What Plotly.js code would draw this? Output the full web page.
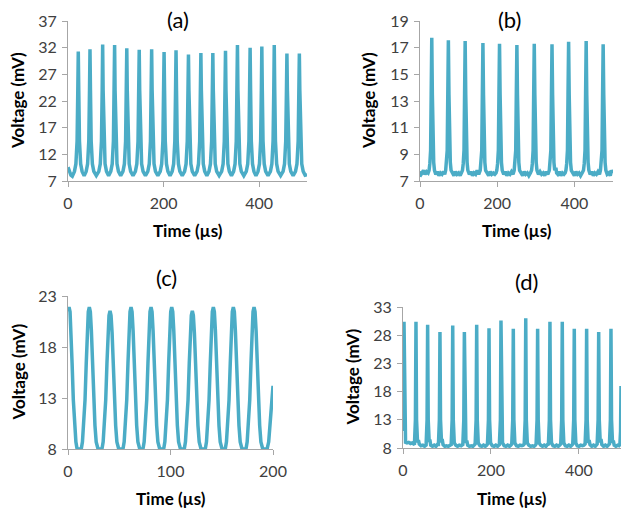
<!DOCTYPE html>
<html>
<head>
<meta charset="utf-8">
<script src="https://cdn.plot.ly/plotly-3.0.1.min.js"></script>
<style>
html,body{margin:0;padding:0;background:#fff;}
#chart{width:621px;height:508px;}
</style>
</head>
<body>
<div id="chart"></div>
<script>
// ---------- Panel (a) ----------
const timeA = [0,3,6,9,
13.5,16.5,19,20.5,21.5,22.5,24,26.5,29.5,33.8,
38,41,43.5,45,46,47,48.5,51,54,59.2,
64.5,67.5,70,71.5,72.5,73.5,75,77.5,80.5,85,
89.5,92.5,95,96.5,97.5,98.5,100,102.5,105.5,110.2,
115,118,120.5,122,123,124,125.5,128,131,136,
141,144,146.5,148,149,150,151.5,154,157,162,
167,170,172.5,174,175,176,177.5,180,183,188,
193,196,198.5,200,201,202,203.5,206,209,213.5,
218,221,223.5,225,226,227,228.5,231,234,239,
244,247,249.5,251,252,253,254.5,257,260,265,
270,273,275.5,277,278,279,280.5,283,286,290.5,
295,298,300.5,302,303,304,305.5,308,311,316.2,
321.5,324.5,327,328.5,329.5,330.5,332,334.5,337.5,342,
346.5,349.5,352,353.5,354.5,355.5,357,359.5,362.5,367.8,
373,376,378.5,380,381,382,383.5,386,389,393.2,
397.5,400.5,403,404.5,405.5,406.5,408,410.5,413.5,418.5,
423.5,426.5,429,430.5,431.5,432.5,434,436.5,439.5,444.8,
450,453,455.5,457,458,459,460.5,463,466,471,
476,479,481.5,483,484,485,486.5,489,492,496,500];
const voltA = [9.6,8.6,8.1,7.9,
8.8,10.2,14.5,24,31.3,24,14.5,10.2,8.8,8.0,
8.8,10.2,14.5,24,31.7,24,14.5,10.2,8.8,8.0,
8.8,10.2,14.5,24,32.6,24,14.5,10.2,8.8,8.0,
8.8,10.2,14.5,24,32.5,24,14.5,10.2,8.8,8.0,
8.8,10.2,14.5,24,31.9,24,14.5,10.2,8.8,8.0,
8.8,10.2,14.5,24,31.6,24,14.5,10.2,8.8,8.0,
8.8,10.2,14.5,24,31.7,24,14.5,10.2,8.8,8.0,
8.8,10.2,14.5,24,31.2,24,14.5,10.2,8.8,8.0,
8.8,10.2,14.5,24,31.5,24,14.5,10.2,8.8,8.0,
8.8,10.2,14.5,24,30.7,24,14.5,10.2,8.8,8.0,
8.8,10.2,14.5,24,31.0,24,14.5,10.2,8.8,8.0,
8.8,10.2,14.5,24,31.0,24,14.5,10.2,8.8,8.0,
8.8,10.2,14.5,24,31.4,24,14.5,10.2,8.8,8.0,
8.8,10.2,14.5,24,32.5,24,14.5,10.2,8.8,8.0,
8.8,10.2,14.5,24,32.0,24,14.5,10.2,8.8,8.0,
8.8,10.2,14.5,24,32.2,24,14.5,10.2,8.8,8.0,
8.8,10.2,14.5,24,32.5,24,14.5,10.2,8.8,8.0,
8.8,10.2,14.5,24,30.9,24,14.5,10.2,8.8,8.0,
8.8,10.2,14.5,24,30.9,24,14.5,10.2,8.8,8.1,8.2];

// ---------- Panel (b) ----------
const timeB = [0,2,5,9,13,17,21,
23.5,25.5,27.5,29,30.5,32,33.5,35.5,37.5,
41,45,49,53,57,61,64,
66.5,68.5,70.5,72,73.5,75,76.5,78.5,80.5,
84,88,92,96,100,104,107,
110,112,114,115.5,117,118.5,120,122,124,
128,132,136,140,144,148,152,
156,158,160,161.5,163,164.5,166,168,170,
174,178,182,186,190,194,197,
199,201,203,204.5,206,207.5,209,211,213,
217,221,225,229,233,237,241,
244,246,248,249.5,251,252.5,254,256,258,
262,266,270,274,278,282,286,
289,291,293,294.5,296,297.5,299,301,303,
307,311,315,319,323,327,331,
335,337,339,340.5,342,343.5,345,347,349,
352,354,357,361,365,369,373,376,
378,380,382,383.5,385,386.5,388,390,392,
396,400,404,408,412,416,420,
423.5,425.5,427.5,429,430.5,432,433.5,435.5,437.5,
441,445,449,453,457,461,465,
467.5,469.5,471.5,473,474.5,476,477.5,479.5,481.5,
485,489,493,496,500];
const voltB = [7.3,7.7,7.6,7.8,7.5,7.7,7.6,
7.8,8.3,9.3,13.5,17.75,13.5,9.3,8.4,7.8,
7.5,7.7,7.4,7.6,7.5,7.7,7.5,
7.8,8.3,9.3,13.5,17.55,13.5,9.3,8.4,7.8,
7.6,7.4,7.7,7.5,7.6,7.4,7.6,
7.8,8.3,9.3,13.5,17.5,13.5,9.3,8.4,7.8,
7.5,7.7,7.4,7.6,7.5,7.8,7.5,
7.8,8.3,9.3,13.5,17.35,13.5,9.3,8.4,7.8,
7.6,7.4,7.7,7.5,7.6,7.5,7.6,
7.8,8.3,9.3,13.5,17.3,13.5,9.3,8.4,7.8,
7.5,7.7,7.4,7.6,7.5,7.7,7.5,
7.8,8.3,9.3,13.5,17.2,13.5,9.3,8.4,7.8,
7.6,7.4,7.7,7.5,7.6,7.4,7.6,
7.8,8.3,9.3,13.5,17.3,13.5,9.3,8.4,7.8,
7.5,7.7,7.5,7.6,7.4,7.7,7.5,
7.8,8.3,9.3,13.5,17.25,13.5,9.3,8.4,7.8,
8.0,7.6,7.5,7.7,7.4,7.6,7.5,7.6,
7.8,8.3,9.3,13.5,17.45,13.5,9.3,8.4,7.8,
7.6,7.4,7.7,7.5,7.6,7.4,7.6,
7.8,8.3,9.3,13.5,17.5,13.5,9.3,8.4,7.8,
7.5,7.7,7.4,7.6,7.5,7.7,7.5,
7.8,8.3,9.3,13.5,17.25,13.5,9.3,8.4,7.8,
7.5,7.6,7.4,7.8,7.6];

// ---------- Panel (c) ----------
const timeC = [0,1,2,3,4,5.2,6.5,7.7,8.7,9.5,
12.3,13.1,14.1,15.3,16.6,17.8,18.8,19.8,20.8,21.8,22.8,23.8,25,26.3,27.5,28.5,29.3,
32.5,33.3,34.3,35.5,36.8,38,39,40,41,42,43,44,45.2,46.5,47.7,48.7,49.5,
53,53.8,54.8,56,57.3,58.5,59.5,60.5,61.5,62.5,63.5,64.5,65.7,67,68.2,69.2,70,
72.5,73.3,74.3,75.5,76.8,78,79,80,81,82,83,84,85.2,86.5,87.7,88.7,89.5,
92.7,93.5,94.5,95.7,97,98.2,99.2,100.2,101.2,102.2,103.2,104.2,105.4,106.7,107.9,108.9,109.7,
112.8,113.6,114.6,115.8,117.1,118.3,119.3,120.3,121.3,122.3,123.3,124.3,125.5,126.8,128,129,129.8,
133.3,134.1,135.1,136.3,137.6,138.8,139.8,140.8,141.8,142.8,143.8,144.8,146,147.3,148.5,149.5,150.3,
152.8,153.6,154.6,155.8,157.1,158.3,159.3,160.3,161.3,162.3,163.3,164.3,165.5,166.8,168,169,169.8,
173,173.8,174.8,176,177.3,178.5,179.5,180.5,181.5,182.5,183.5,184.5,185.7,187,188.2,189.2,190,
193.5,194.5,195.8,197.2,198.7,200];
const voltC = [21.6,21.9,21.45,19.6,16.4,12.8,10.3,8.7,8.1,8.0,
8.0,8.1,8.7,10.3,12.8,16.4,19.6,21.45,21.9,21.45,19.6,16.4,12.8,10.3,8.7,8.1,8.0,
8.0,8.1,8.7,10.3,12.8,16.4,19.4,21.1,21.55,21.1,19.4,16.4,12.8,10.3,8.7,8.1,8.0,
8.0,8.1,8.7,10.3,12.8,16.4,19.6,21.45,21.9,21.45,19.6,16.4,12.8,10.3,8.7,8.1,8.0,
8.0,8.1,8.7,10.3,12.8,16.4,19.6,21.45,21.9,21.45,19.6,16.4,12.8,10.3,8.7,8.1,8.0,
8.0,8.1,8.7,10.3,12.8,16.4,19.6,21.45,21.9,21.45,19.6,16.4,12.8,10.3,8.7,8.1,8.0,
8.0,8.1,8.7,10.3,12.8,16.4,19.4,21.1,21.55,21.1,19.4,16.4,12.8,10.3,8.7,8.1,8.0,
8.0,8.1,8.7,10.3,12.8,16.4,19.6,21.45,21.9,21.45,19.6,16.4,12.8,10.3,8.7,8.1,8.0,
8.0,8.1,8.7,10.3,12.8,16.4,19.6,21.45,21.9,21.45,19.6,16.4,12.8,10.3,8.7,8.1,8.0,
8.0,8.1,8.7,10.3,12.8,16.4,19.6,21.45,21.9,21.45,19.6,16.4,12.8,10.3,8.7,8.1,8.0,
8.0,8.1,8.7,10.3,12.5,14.2];

// ---------- Panel (d) ----------
const timeD = [0,1,2.3,3.6,5.8,9,13,17,21,24.5,
26,28.2,29.5,30.8,33,35,37,41,45,49,52.5,
54.7,56,57.3,59.5,61,63,67,71,75,78,80.5,
82.7,84,85.3,87.5,89,91,95,99,103,107,109.5,
111.7,113,114.3,116.5,120,124,128,132,136,
138.2,139.5,140.8,143,145,147,151,155,159,162,164,
166.2,167.5,168.8,171,175,179,183,187,190,192,
194.2,195.5,196.8,199,203,207,211,215,219,
221.4,222.7,224,226.2,230,234,238,242,245,247.2,
249.4,250.7,252,254.2,258,262,266,270,273,275.5,
277.7,279,280.3,282.5,286,290,294,298,301,302.5,
304.7,306,307.3,309.5,313,317,321,325,328,330.5,
332.7,334,335.3,337.5,341,345,349,353,356,358.5,
360.7,362,363.3,365.5,369,373,377,381,384,385.8,
388,389.3,390.6,392.8,396,400,404,408,411,413.9,
416.1,417.4,418.7,420.9,423,425,429,433,437,439,441.3,
443.5,444.8,446.1,448.3,450,452,456,460,464,467,469.2,
471.4,472.7,474,476.2,478,480,484,488,491,493,494.5,495.5];
const voltD = [11,13,30.4,13,9.0,8.9,9.0,8.8,8.9,8.7,
8.6,13,30.4,13,9.0,9.4,8.7,8.4,8.5,8.3,8.5,
13,29.85,13,9.1,9.5,8.5,8.3,8.5,8.3,8.6,8.6,
13,28.55,13,9.0,9.6,8.6,8.3,8.4,8.3,8.5,8.6,
13,29.7,13,8.9,8.5,8.3,8.5,8.4,8.6,
13,28.55,13,8.9,9.3,8.5,8.3,8.4,8.3,8.6,8.7,
13,29.85,13,8.9,8.4,8.3,8.5,8.3,8.5,8.7,
13,29.25,13,8.9,8.4,8.3,8.5,8.3,8.6,
13,30.6,13,8.9,8.4,8.3,8.5,8.3,8.5,8.7,
13,29.15,13,8.9,8.4,8.3,8.5,8.4,8.5,8.7,
13,31.0,13,8.9,8.5,8.3,8.4,8.3,8.5,8.7,
13,29.15,13,8.9,8.5,8.3,8.5,8.3,8.6,8.7,
13,30.4,13,8.9,8.4,8.3,8.5,8.3,8.5,8.7,
13,30.4,13,8.9,8.4,8.3,8.5,8.3,8.5,8.7,
13,29.15,13,8.9,8.4,8.3,8.5,8.4,8.5,8.7,
13,29.15,13,8.9,9.4,8.6,8.3,8.5,8.3,8.5,8.7,
13,28.55,13,9.0,9.6,8.6,8.3,8.5,8.3,8.5,8.7,
13,29.15,13,8.9,9.3,8.5,8.3,8.5,8.4,8.6,11,19];

// ---------- Axis tick definitions ----------
const yTicksA = [7,12,17,22,27,32,37];
const yTicksB = [7,9,11,13,15,17,19];
const yTicksC = [8,13,18,23];
const yTicksD = [8,13,18,23,28,33];
const xTicksA = [0,200,400];
const xTicksC = [0,100,200];

const panelLabels = ['(a)','(b)','(c)','(d)'];
const xTitle = 'Time (µs)';
const yTitle = 'Voltage (mV)';

// ---------- Rendering ----------
const W = 621, H = 508;
const px = x => x / W;
const py = y => 1 - y / H;

const lineColor = '#4BACC6';
const traces = [
  {x: timeA, y: voltA, xaxis: 'x', yaxis: 'y'},
  {x: timeB, y: voltB, xaxis: 'x2', yaxis: 'y2'},
  {x: timeC, y: voltC, xaxis: 'x3', yaxis: 'y3'},
  {x: timeD, y: voltD, xaxis: 'x4', yaxis: 'y4'}
].map(t => Object.assign(t, {
  type: 'scatter', mode: 'lines', hoverinfo: 'skip',
  line: {color: lineColor, width: 3.5}, cliponaxis: true
}));

const tickFont = {family: 'Lato, sans-serif', size: 16, color: '#404040'};
function xAx(domain, range, ticks, anchor) {
  return {domain, range, tickvals: ticks, ticktext: ticks.map(String), anchor,
    showline: true, linecolor: '#a6a6a6', linewidth: 1, showgrid: false, zeroline: false,
    ticks: 'outside', ticklen: 5, tickcolor: '#a6a6a6', tickfont: tickFont,
    ticklabelstandoff: 3, fixedrange: true};
}
function yAx(domain, range, ticks, anchor) {
  return {domain, range, tickvals: ticks, ticktext: ticks.map(String), anchor,
    showline: true, linecolor: '#a6a6a6', linewidth: 1, showgrid: false, zeroline: false,
    ticks: 'outside', ticklen: 5, tickcolor: '#a6a6a6', tickfont: tickFont,
    ticklabelstandoff: 2, fixedrange: true};
}

const layout = {
  width: W, height: H,
  margin: {l: 0, r: 0, t: 0, b: 0},
  paper_bgcolor: '#ffffff', plot_bgcolor: 'rgba(0,0,0,0)',
  showlegend: false,
  xaxis:  xAx([px(68), px(307)], [0, 500], xTicksA, 'y'),
  yaxis:  yAx([py(181), py(21)], [7, 37], yTicksA, 'x'),
  xaxis2: xAx([px(420), px(613)], [0, 500], xTicksA, 'y2'),
  yaxis2: yAx([py(181), py(21)], [7, 19], yTicksB, 'x2'),
  xaxis3: xAx([px(68), px(273)], [0, 200], xTicksC, 'y3'),
  yaxis3: yAx([py(449), py(296)], [8, 23], yTicksC, 'x3'),
  xaxis4: xAx([px(403), 1], [0, 495.5], xTicksA, 'y4'),
  yaxis4: yAx([py(448), py(307)], [8, 33], yTicksD, 'x4'),
  annotations: []
};

const titleFont = {family: 'Lato, sans-serif', size: 17, color: '#000000', weight: 'bold'};
const labelFont = {family: 'Lato, sans-serif', size: 22, color: '#000000'};
function ann(text, x, y, font, angle) {
  return {text, x: px(x), y: py(y), xref: 'paper', yref: 'paper',
    xanchor: 'center', yanchor: 'middle', showarrow: false, font, textangle: angle || 0};
}
const labelPos = [[178, 19], [509, 19], [166, 277], [526, 281]];
const xTitlePos = [[187.5, 230], [516.5, 230], [170.5, 498], [512, 498]];
const yTitlePos = [[18, 101], [369, 101], [18, 372.5], [352, 377.5]];
for (let i = 0; i < 4; i++) {
  layout.annotations.push(ann(panelLabels[i], labelPos[i][0], labelPos[i][1], labelFont));
  layout.annotations.push(ann('<b>' + xTitle + '</b>', xTitlePos[i][0], xTitlePos[i][1], titleFont));
  layout.annotations.push(ann('<b>' + yTitle + '</b>', yTitlePos[i][0], yTitlePos[i][1], titleFont, -90));
}

Plotly.newPlot('chart', traces, layout, {displayModeBar: false, staticPlot: true});
</script>
</body>
</html>
